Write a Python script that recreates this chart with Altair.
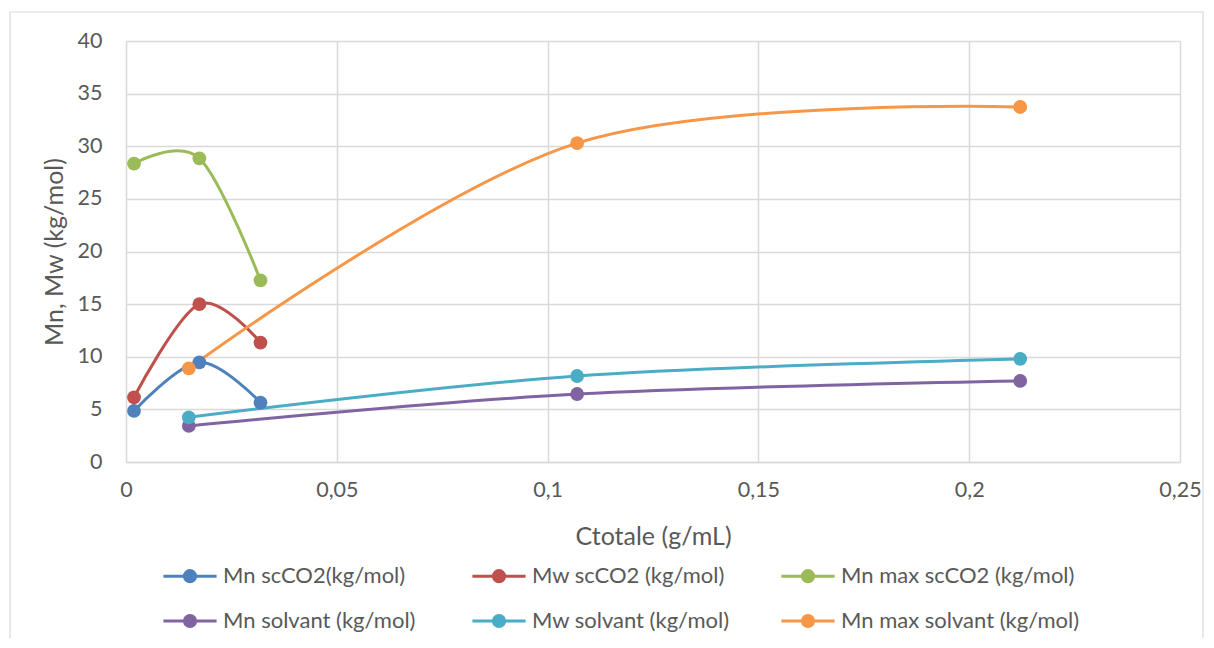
import altair as alt
import pandas as pd

series = ["Mn scCO2(kg/mol)", "Mw scCO2 (kg/mol)", "Mn max scCO2 (kg/mol)",
          "Mn solvant (kg/mol)", "Mw solvant (kg/mol)", "Mn max solvant (kg/mol)"]
colors = ["#4F81BD", "#C0504D", "#9BBB59", "#8064A2", "#4BACC6", "#F79646"]

c_scco2 = [0.0019, 0.0174, 0.0319]
c_solvant = [0.0149, 0.107, 0.2121]

mn_scco2 = [4.85, 9.47, 5.65]
mw_scco2 = [6.15, 15.0, 11.35]
mnmax_scco2 = [28.35, 28.85, 17.25]
mn_solvant = [3.43, 6.46, 7.7]
mw_solvant = [4.25, 8.17, 9.8]
mnmax_solvant = [8.9, 30.3, 33.73]

x_ticks = [0, 0.05, 0.1, 0.15, 0.2, 0.25]
y_ticks = [0, 5, 10, 15, 20, 25, 30, 35, 40]

values = [mn_scco2, mw_scco2, mnmax_scco2, mn_solvant, mw_solvant, mnmax_solvant]
xs_all = [c_scco2] * 3 + [c_solvant] * 3

rows = []
for i, (name, xs, ys) in enumerate(zip(series, xs_all, values)):
    for x, y in zip(xs, ys):
        rows.append({"series": name, "order": i, "x": x, "y": y})
df = pd.DataFrame(rows)

FONT = "Lato"
TXT = "#595959"
GRID = "#D9D9D9"

sym_path = "M-3.8,0H3.8M0.8,0A0.8,0.8,0,1,1,-0.8,0A0.8,0.8,0,1,1,0.8,0Z"

color = alt.Color(
    "series:N",
    scale=alt.Scale(domain=series, range=colors),
    legend=alt.Legend(
        orient="none", legendX=53, legendY=524, direction="horizontal",
        columns=3, gridAlign="all", title=None,
        symbolType=sym_path, symbolSize=196, symbolStrokeWidth=3,
        labelFont=FONT, labelFontSize=22, labelColor=TXT,
        labelOffset=22, columnPadding=4, rowPadding=21, labelLimit=400,
    ),
)

x_enc = alt.X(
    "x:Q",
    scale=alt.Scale(domain=[0, 0.25], nice=False),
    axis=alt.Axis(
        values=x_ticks, title="Ctotale (g/mL)", labelFlush=False,
        labelExpr="replace(toString(datum.value), '.', ',')",
    ),
)
y_enc = alt.Y(
    "y:Q",
    scale=alt.Scale(domain=[0, 40], nice=False),
    axis=alt.Axis(values=y_ticks, title="Mn, Mw (kg/mol)"),
)

base = alt.Chart(df).encode(x=x_enc, y=y_enc, color=color, detail="series:N")

lines = base.mark_line(interpolate="cardinal", strokeWidth=3)
points = base.mark_point(filled=True, size=190, opacity=1)

frame = alt.Chart(pd.DataFrame({"k": [0]})).mark_rect(
    filled=False, stroke=GRID, strokeWidth=1.2
).encode(
    x=alt.value(-116), x2=alt.value(1077), y=alt.value(-29), y2=alt.value(660)
)

chart = alt.layer(frame, lines, points).properties(
    width=1054, height=421,
    padding={"left": 118, "top": 33, "right": 26, "bottom": 176},
    autosize=alt.AutoSizeParams(type="none"),
).configure_view(stroke=None).configure_axis(
    grid=True, gridColor=GRID, gridWidth=1.5,
    domainColor=GRID, domainWidth=1.5, ticks=False,
    labelFont=FONT, labelFontSize=21.5, labelColor=TXT,
    titleFont=FONT, titleFontSize=25, titleColor=TXT, titleFontWeight="normal",
).configure_axisX(labelPadding=17, titlePadding=24).configure_axisY(
    labelPadding=24, titlePadding=10, domain=False
)

chart.save("out.html", embed_options={"renderer": "svg", "actions": False})
